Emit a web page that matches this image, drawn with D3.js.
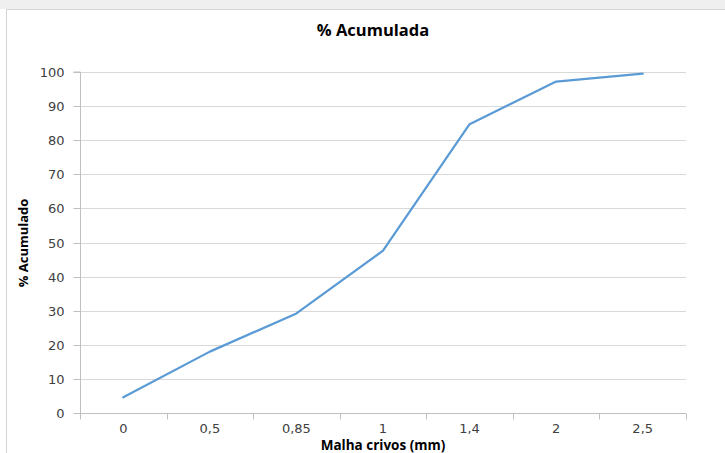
<!DOCTYPE html>
<html>
<head>
<meta charset="utf-8">
<script src="https://cdn.jsdelivr.net/npm/d3@7/dist/d3.min.js"></script>
<style>
html,body{margin:0;padding:0;background:#fff;}
svg{display:block;}
</style>
</head>
<body>
<svg id="chart" width="725" height="453"></svg>
<script>
const categories = ["0", "0,5", "0,85", "1", "1,4", "2", "2,5"];
const values = [4.6, 18, 29.2, 47.6, 84.7, 97.2, 99.5];
const yTicks = [0, 10, 20, 30, 40, 50, 60, 70, 80, 90, 100];

const svg = d3.select("#chart");
const W = 725, H = 453;
const m = {left: 80, right: 39, top: 72, bottom: 40};

// frame
svg.append("rect").attr("x", 0).attr("y", 0).attr("width", W).attr("height", 9).attr("fill", "#efefef");
svg.append("rect").attr("x", 6.5).attr("y", 9.5).attr("width", W).attr("height", H)
  .attr("fill", "#fff").attr("stroke", "#d4d4d4");

const x = d3.scaleBand().domain(categories).range([m.left, W - m.right]);
const y = d3.scaleLinear().domain([0, 100]).range([H - m.bottom, m.top]);

// gridlines
svg.append("g").selectAll("line").data(yTicks.filter(d => d > 0)).join("line")
  .attr("x1", m.left).attr("x2", W - m.right)
  .attr("y1", d => Math.round(y(d)) + 0.5).attr("y2", d => Math.round(y(d)) + 0.5)
  .attr("stroke", "#d9d9d9").attr("stroke-width", 1);

// y axis
const ya = svg.append("g").attr("transform", `translate(${m.left + 0.5},0)`)
  .call(d3.axisLeft(y).tickValues(yTicks).tickSize(7).tickPadding(9));
ya.select(".domain").attr("stroke", "#bfbfbf").attr("d", `M-7,${y(100)}H0V${y(0)}`);
ya.selectAll(".tick line").attr("stroke", "#bfbfbf");
ya.selectAll(".tick text").attr("font-family", "DejaVu Sans").attr("font-size", 13).attr("fill", "#404040");
ya.selectAll(".tick").attr("transform", d => `translate(0,${Math.round(y(d)) + 0.5})`);

// x axis
const xa = svg.append("g").attr("transform", `translate(0,${Math.round(y(0)) + 0.5})`);
xa.append("line").attr("x1", m.left).attr("x2", W - m.right).attr("stroke", "#bfbfbf");
const bounds = categories.map(c => x(c)).concat([x(categories[categories.length - 1]) + x.bandwidth()]);
xa.selectAll("line.tk").data(bounds).join("line").attr("class", "tk")
  .attr("x1", d => Math.round(d) + 0.5).attr("x2", d => Math.round(d) + 0.5)
  .attr("y1", 0).attr("y2", 6).attr("stroke", "#bfbfbf");
xa.selectAll("text").data(categories).join("text")
  .attr("x", d => x(d) + x.bandwidth() / 2).attr("y", 19.5)
  .attr("text-anchor", "middle").attr("font-family", "DejaVu Sans").attr("font-size", 13)
  .attr("fill", "#404040").text(d => d);

// line
const line = d3.line().x((d, i) => x(categories[i]) + x.bandwidth() / 2).y(d => y(d));
svg.append("path").datum(values).attr("d", line)
  .attr("fill", "none").attr("stroke", "#5b9bd5").attr("stroke-width", 2.25)
  .attr("stroke-linejoin", "round").attr("stroke-linecap", "round");

// titles
svg.append("text").attr("x", 373).attr("y", 36).attr("text-anchor", "middle")
  .attr("font-family", "Open Sans, Liberation Sans, sans-serif").attr("font-weight", "bold").attr("font-size", 16.5)
  .attr("fill", "#000").text("% Acumulada");
svg.append("text").attr("x", 383).attr("y", 450).attr("text-anchor", "middle")
  .attr("font-family", "Open Sans, Liberation Sans, sans-serif").attr("font-weight", "bold").attr("font-size", 13.5)
  .attr("fill", "#000").text("Malha crivos (mm)");
svg.append("text").attr("transform", "translate(28,243) rotate(-90)").attr("text-anchor", "middle")
  .attr("font-family", "Open Sans, Liberation Sans, sans-serif").attr("font-weight", "bold").attr("font-size", 13)
  .attr("fill", "#000").text("% Acumulado");
</script>
</body>
</html>
